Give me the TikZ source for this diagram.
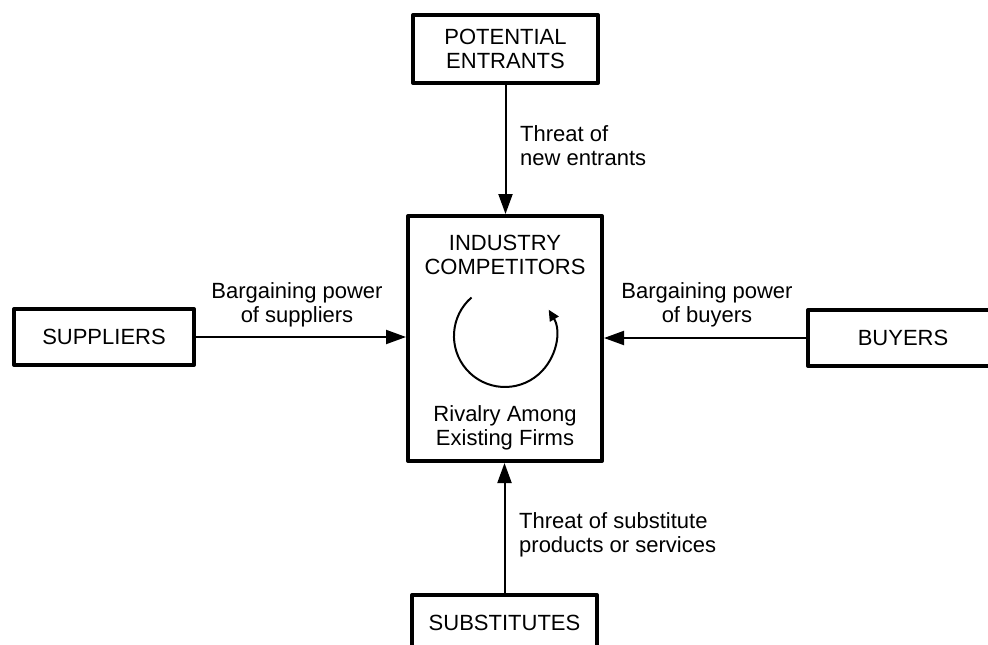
\documentclass[tikz,border=0pt]{standalone}
\usepackage{fontspec}
\setmainfont{Liberation Sans}
\usetikzlibrary{arrows.meta}

\tikzset{
	txt/.style={font=\fontsize{22}{23.5}\selectfont, align=center, inner sep=0},
	force/.style={txt, draw, line width=4pt, line join=round},
	push/.style={-{Triangle[length=20pt, width=14pt]}, line width=2pt}
}

\begin{document}
\begin{tikzpicture}[x=1pt, y=-1pt]
		\useasboundingbox (0, 0) rectangle (988, 645);
		\clip (0, 0) rectangle (988, 645);

		% the five forces
		\node[force, minimum width=185pt, minimum height=68pt] (entrants) at (505.5, 49) {POTENTIAL\\ENTRANTS};
		\node[force, minimum width=194pt, minimum height=245pt] (rivals) at (505, 338.5) {};
		\node[force, minimum width=180pt, minimum height=56pt] (suppliers) at (104, 337) {SUPPLIERS};
		\node[force, minimum width=190pt, minimum height=56pt] (buyers) at (903, 338) {BUYERS};
		\node[force, minimum width=185pt, minimum height=56pt] (substitutes) at (504.5, 623) {SUBSTITUTES};

		% inside the industry box
		\node[txt, anchor=base] (title) at (505, 274) {INDUSTRY\\COMPETITORS};
		\node[txt, anchor=base] (rivalry) at (505, 445) {Rivalry Among\\Existing Firms};
		\draw[-{Triangle[length=11pt, width=10pt]}, line width=2pt]
			(471.5, 297.5) arc[start angle=131, end angle=391, radius=51pt];

		% arrows
		\draw[push] (entrants.south) -- (entrants.south |- rivals.north);
		\draw[push] (substitutes.north) -- (substitutes.north |- rivals.south);
		\draw[push] (suppliers.east) -- (suppliers.east -| rivals.west);
		\draw[push] (buyers.west) -- (buyers.west -| rivals.east);

		% labels
		\node[txt, anchor=base west, align=left] (threatnew) at (520, 165) {Threat of\\new entrants};
		\node[txt, anchor=base] (powsup) at (297, 322) {Bargaining power\\of suppliers};
		\node[txt, anchor=base] (powbuy) at (707, 322) {Bargaining power\\of buyers};
		\node[txt, anchor=base west, align=left] (threatsub) at (519, 552) {Threat of substitute\\products or services};
	\end{tikzpicture}
\end{document}
